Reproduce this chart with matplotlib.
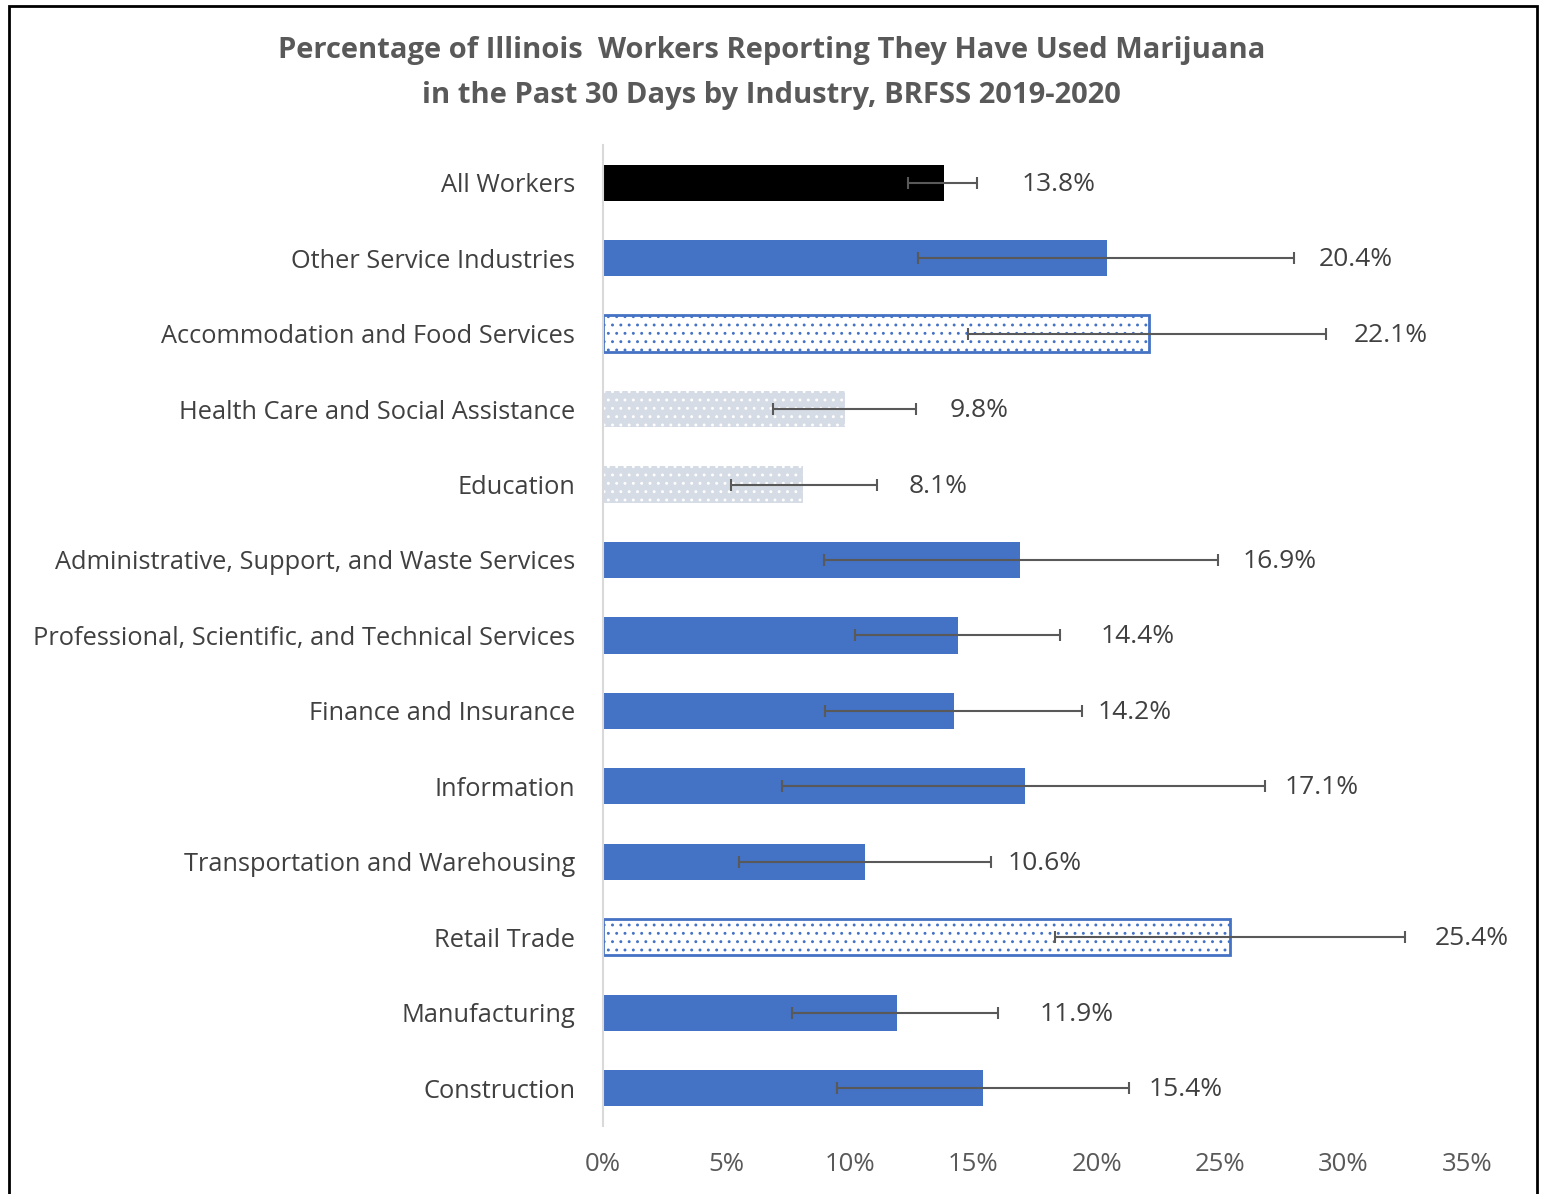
import matplotlib
matplotlib.use("Agg")
import matplotlib.pyplot as plt
from matplotlib.patches import Rectangle
import numpy as np

plt.rcParams['font.family'] = ['Open Sans', 'DejaVu Sans']
plt.rcParams['hatch.linewidth'] = 0.9

# Industry categories, top to bottom
categories = [
    "All Workers",
    "Other Service Industries",
    "Accommodation and Food Services",
    "Health Care and Social Assistance",
    "Education",
    "Administrative, Support, and Waste Services",
    "Professional, Scientific, and Technical Services",
    "Finance and Insurance",
    "Information",
    "Transportation and Warehousing",
    "Retail Trade",
    "Manufacturing",
    "Construction",
]
# Prevalence (%) with 95% confidence limits
values = [13.8, 20.4, 22.1, 9.8, 8.1, 16.9, 14.4, 14.2, 17.1, 10.6, 25.4, 11.9, 15.4]
ci_low = [12.35, 12.75, 14.8, 6.9, 5.2, 8.95, 10.2, 9.0, 7.25, 5.5, 18.3, 7.65, 9.5]
ci_high = [15.15, 28.0, 29.3, 12.7, 11.1, 24.9, 18.5, 19.4, 26.8, 15.7, 32.5, 16.0, 21.3]
# Bar style group: 'all', 'solid', 'outline' (dotted, outlined), 'faint' (dotted, light)
styles = ["all", "solid", "outline", "faint", "faint", "solid", "solid",
          "solid", "solid", "solid", "outline", "solid", "solid"]
# Gap between the upper confidence limit and the value label (percentage points)
label_gap = [1.8, 1.0, 1.1, 1.35, 1.3, 1.0, 1.65, 0.65, 0.8, 0.7, 1.2, 1.7, 0.8]
xticks = [0, 5, 10, 15, 20, 25, 30, 35]

BLUE = "#4472C4"
FAINT = "#D6DCE5"
GREY = "#595959"
DARK = "#404040"

fig = plt.figure(figsize=(15.43, 11.94), dpi=100)
ax = fig.add_axes([0.3908, 0.0570, 0.5599, 0.8216])

y = np.arange(len(categories))
for yi, v, s in zip(y, values, styles):
    if s == "all":
        ax.barh(yi, v, height=0.48, color="black", linewidth=0, zorder=2)
    elif s == "solid":
        ax.barh(yi, v, height=0.48, color=BLUE, linewidth=0, zorder=2)
    elif s == "outline":
        ax.barh(yi, v, height=0.48, facecolor="white", edgecolor=BLUE,
                hatch="..", linewidth=2, zorder=2)
    else:
        ax.barh(yi, v, height=0.48, facecolor=FAINT, edgecolor="white",
                hatch="..", linewidth=0, zorder=2)

v = np.array(values)
err = np.vstack([v - np.array(ci_low), np.array(ci_high) - v])
ax.errorbar(v, y, xerr=err, fmt="none", ecolor=GREY, elinewidth=1.5,
            capsize=4, capthick=1.5, zorder=3)

for yi, v_, hi, g in zip(y, values, ci_high, label_gap):
    ax.text(hi + g, yi + 0.02, f"{v_:.1f}%", ha="left", va="center",
            fontsize=19, color=DARK)

ax.set_ylim(len(categories) - 0.5, -0.5)
ax.set_xlim(0, 35)
ax.set_yticks(y)
ax.set_yticklabels(categories, fontsize=18.3, color=DARK)
ax.set_xticks(xticks)
ax.set_xticklabels([f"{t}%" for t in xticks], fontsize=18.5, color=GREY)
ax.tick_params(axis="both", length=0)
ax.tick_params(axis="y", pad=20)
ax.tick_params(axis="x", pad=19)
for side in ["top", "right", "bottom"]:
    ax.spines[side].set_visible(False)
ax.spines["left"].set_color("#D9D9D9")
ax.spines["left"].set_linewidth(1.5)
ax.spines["left"].set_zorder(4)

fig.text(0.500, 0.939,
         "Percentage of Illinois  Workers Reporting They Have Used Marijuana\n"
         "in the Past 30 Days by Industry, BRFSS 2019-2020",
         ha="center", va="center", fontsize=21, fontweight="bold",
         color=GREY, linespacing=1.7)

# Outer frame
fig.add_artist(Rectangle((0.0058, -0.01), 0.9903, 1.005, transform=fig.transFigure,
                         fill=False, edgecolor="black", linewidth=2))

fig.savefig("out.png", dpi=100)
